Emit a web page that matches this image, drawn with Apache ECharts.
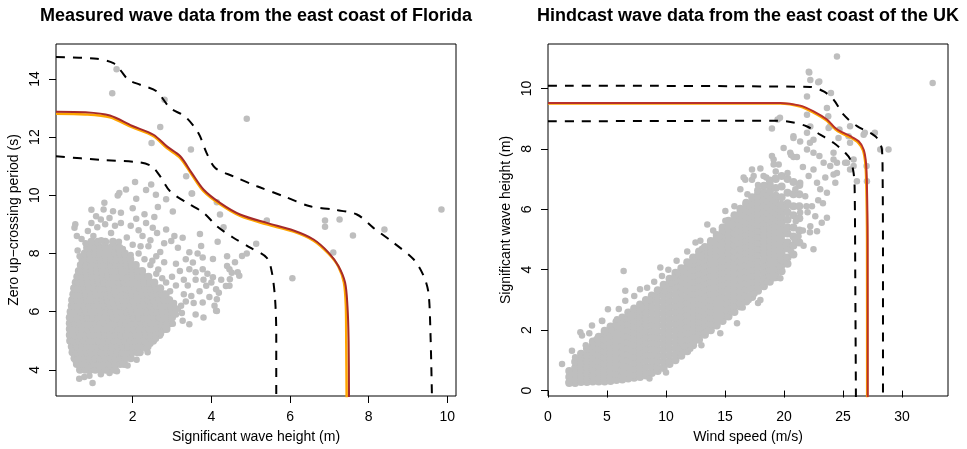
<!DOCTYPE html>
<html>
<head>
<meta charset="utf-8">
<script src="https://cdn.jsdelivr.net/npm/echarts@6/dist/echarts.min.js"></script>
<style>
  html, body { margin: 0; padding: 0; background: #fff; }
  #chart { width: 967px; height: 449px; }
</style>
</head>
<body>
<div id="chart"></div>
<script>
// ---- Florida panel: Hs (m) vs Tz (s) ----
// dense core of the cloud, one row per Tz level: [Tz, [Hs ...]]
const floridaCoreRows = [
  [4.0, [0.66, 0.79, 0.92, 1.05, 1.18, 1.31, 1.44, 1.55]],
  [4.2, [0.58, 0.64, 0.77, 0.9, 1.03, 1.16, 1.29, 1.42, 1.55, 1.68, 1.78]],
  [4.4, [0.52, 0.65, 0.78, 0.91, 1.04, 1.17, 1.3, 1.43, 1.56, 1.69, 1.82, 1.95]],
  [4.6, [0.47, 0.56, 0.69, 0.82, 0.95, 1.08, 1.21, 1.34, 1.47, 1.6, 1.73, 1.86, 1.99, 2.12, 2.18]],
  [4.8, [0.45, 0.58, 0.71, 0.84, 0.97, 1.1, 1.23, 1.36, 1.49, 1.62, 1.75, 1.88, 2.01, 2.14, 2.27, 2.38]],
  [5.0, [0.41, 0.5, 0.63, 0.76, 0.89, 1.02, 1.15, 1.28, 1.41, 1.54, 1.67, 1.8, 1.93, 2.06, 2.19, 2.32, 2.45, 2.52]],
  [5.2, [0.4, 0.53, 0.66, 0.79, 0.92, 1.05, 1.18, 1.31, 1.44, 1.57, 1.7, 1.83, 1.96, 2.09, 2.22, 2.35, 2.48, 2.61, 2.68]],
  [5.4, [0.4, 0.47, 0.6, 0.73, 0.86, 0.99, 1.12, 1.25, 1.38, 1.51, 1.64, 1.77, 1.9, 2.03, 2.16, 2.29, 2.42, 2.55, 2.68, 2.81, 2.86]],
  [5.6, [0.4, 0.53, 0.66, 0.79, 0.92, 1.05, 1.18, 1.31, 1.44, 1.57, 1.7, 1.83, 1.96, 2.09, 2.22, 2.35, 2.48, 2.61, 2.74, 2.87, 2.95]],
  [5.8, [0.4, 0.47, 0.6, 0.73, 0.86, 0.99, 1.12, 1.25, 1.38, 1.51, 1.64, 1.77, 1.9, 2.03, 2.16, 2.29, 2.42, 2.55, 2.68, 2.81, 2.94, 3.0]],
  [6.0, [0.42, 0.55, 0.68, 0.81, 0.94, 1.07, 1.2, 1.33, 1.46, 1.59, 1.72, 1.85, 1.98, 2.11, 2.24, 2.37, 2.5, 2.63, 2.76, 2.89, 3.0]],
  [6.2, [0.45, 0.51, 0.64, 0.77, 0.9, 1.03, 1.16, 1.29, 1.42, 1.55, 1.68, 1.81, 1.94, 2.07, 2.2, 2.33, 2.46, 2.59, 2.72, 2.85, 2.98, 3.03]],
  [6.4, [0.46, 0.59, 0.72, 0.85, 0.98, 1.11, 1.24, 1.37, 1.5, 1.63, 1.76, 1.89, 2.02, 2.15, 2.28, 2.41, 2.54, 2.67, 2.8, 2.93]],
  [6.6, [0.49, 0.55, 0.68, 0.81, 0.94, 1.07, 1.2, 1.33, 1.46, 1.59, 1.72, 1.85, 1.98, 2.11, 2.24, 2.37, 2.5, 2.63, 2.76, 2.84]],
  [6.8, [0.51, 0.64, 0.77, 0.9, 1.03, 1.16, 1.29, 1.42, 1.55, 1.68, 1.81, 1.94, 2.07, 2.2, 2.33, 2.46, 2.59, 2.7]],
  [7.0, [0.55, 0.62, 0.75, 0.88, 1.01, 1.14, 1.27, 1.4, 1.53, 1.66, 1.79, 1.92, 2.05, 2.18, 2.31, 2.44, 2.55]],
  [7.2, [0.59, 0.72, 0.85, 0.98, 1.11, 1.24, 1.37, 1.5, 1.63, 1.76, 1.89, 2.02, 2.15, 2.28, 2.4]],
  [7.4, [0.63, 0.7, 0.83, 0.96, 1.09, 1.22, 1.35, 1.48, 1.61, 1.74, 1.87, 2.0, 2.13, 2.24]],
  [7.6, [0.68, 0.81, 0.94, 1.07, 1.2, 1.33, 1.46, 1.59, 1.72, 1.85, 1.98, 2.08]],
  [7.8, [0.72, 0.8, 0.93, 1.06, 1.19, 1.32, 1.45, 1.58, 1.71, 1.84, 1.94]],
  [8.0, [0.78, 0.91, 1.04, 1.17, 1.3, 1.43, 1.56, 1.69, 1.8]],
  [8.2, [0.84, 0.92, 1.05, 1.18, 1.31, 1.44, 1.57, 1.66]],
  [8.4, [0.95, 1.12, 1.3, 1.5]]
];
// scattered points around the core and outliers: [Hs, Tz]
const floridaSpread = [
  [0.64, 3.69], [0.77, 3.75], [0.9, 3.8], [0.98, 3.55], [1.19, 3.85], [1.41, 3.89], [0.86, 4.07], [1.6, 3.95],
  [1.75, 4.21], [1.87, 4.15], [2.1, 4.35], [0.55, 4.3], [2.34, 4.72], [2.38, 4.6], [2.45, 4.9], [2.59, 5.07],
  [2.72, 5.25], [2.85, 5.52], [3.02, 5.58], [3.1, 5.9], [3.05, 6.3], [3.15, 6.1], [3.27, 5.69], [3.44, 5.57],
  [3.23, 6.2], [3.49, 6.54], [3.1, 6.08], [2.95, 6.7], [3.3, 6.6], [3.1, 6.9], [2.85, 7.0], [3.0, 7.2],
  [3.2, 7.4], [2.6, 7.3], [2.45, 7.6], [2.3, 7.8], [2.15, 8.0], [2.6, 7.9], [2.8, 7.7], [3.44, 7.46],
  [3.78, 7.46], [3.53, 7.69], [3.78, 7.86], [4.04, 7.81], [3.44, 8.04], [3.74, 8.26], [4.16, 8.4], [2.98, 8.43],
  [3.06, 8.6], [3.27, 8.54], [3.71, 8.67], [4.04, 7.18], [4.46, 7.46], [4.67, 7.35], [4.71, 7.23], [4.46, 6.89],
  [4.12, 6.77], [3.87, 6.89], [3.78, 6.31], [4.08, 6.2], [4.12, 6.03], [3.6, 7.1], [3.7, 6.7], [3.4, 6.9],
  [3.3, 7.1], [3.9, 7.3], [4.25, 7.1], [4.9, 8.0], [4.78, 7.91], [5.14, 8.33], [4.6, 7.7], [4.4, 7.9],
  [4.4, 7.57], [4.52, 7.34], [4.47, 7.11], [4.37, 6.88], [4.19, 6.65], [4.14, 6.43],
  [2.65, 7.45], [2.75, 7.15], [2.5, 7.75], [2.7, 8.05], [2.2, 8.25], [2.45, 8.45], [2.62, 8.7], [2.15, 8.8],
  [1.95, 8.95], [1.55, 8.95], [1.3, 9.0], [0.95, 9.05], [0.8, 8.35], [0.58, 8.6], [1.1, 8.9], [1.7, 9.4],
  [2.0, 9.55], [2.3, 9.35], [2.55, 9.25], [1.5, 9.45], [0.95, 9.5], [2.8, 8.35], [3.15, 8.2], [3.35, 7.8],
  [3.1, 7.65], [3.6, 7.35], [3.8, 7.1], [3.55, 6.3], [3.35, 6.35], [3.25, 5.95], [3.6, 5.9], [3.8, 5.8],
  [3.95, 6.5], [4.0, 7.0], [3.65, 8.0],
  [0.52, 8.88], [0.54, 9.0], [0.86, 8.77], [1.07, 9.28], [1.19, 9.17], [1.28, 9.74], [1.26, 9.51], [1.41, 9.22],
  [1.62, 9.99], [1.66, 10.08], [1.83, 10.2], [2.06, 10.46], [2.09, 9.88], [2.34, 10.18], [2.47, 10.37], [2.59, 10.02],
  [2.85, 9.86], [3.51, 10.06], [2.64, 9.6], [3.02, 9.44], [1.7, 9.05], [2.09, 9.19], [2.34, 9.05], [2.51, 8.88],
  [2.85, 8.82], [0.7, 8.5], [1.0, 8.6], [1.2, 8.45], [1.45, 8.7], [1.65, 8.4], [1.85, 8.55], [2.0, 8.3],
  [2.25, 8.6], [1.75, 8.15], [1.95, 7.95], [2.4, 8.25], [0.6, 8.1], [0.65, 7.9],
  [1.59, 14.33], [1.48, 13.51], [2.81, 13.28], [4.9, 12.63], [2.7, 12.35], [2.48, 11.8], [3.48, 11.57], [3.36, 10.65],
  [3.5, 10.06], [4.14, 9.76], [4.22, 9.34], [9.85, 9.51], [8.4, 8.82], [6.89, 9.13], [6.89, 8.92], [7.26, 9.17],
  [7.6, 8.62], [7.1, 8.03], [6.06, 7.15], [5.41, 9.13], [4.14, 6.02], [4.31, 8.9]
];
const floridaContourOrange = [
  [0.05, 12.8], [0.8, 12.78], [1.42, 12.68], [1.98, 12.34], [2.53, 12.03], [2.87, 11.62], [3.21, 11.28], [3.5, 10.71],
  [3.8, 10.14], [4.22, 9.69], [4.73, 9.29], [5.41, 9.0], [6.09, 8.75], [6.6, 8.44], [6.98, 7.99], [7.23, 7.55],
  [7.37, 7.0], [7.42, 6.2], [7.43, 5.0], [7.44, 3.0]
];
const floridaContourRed = [
  [0.05, 12.87], [0.8, 12.85], [1.42, 12.74], [1.98, 12.39], [2.53, 12.08], [2.87, 11.68], [3.21, 11.34], [3.5, 10.77],
  [3.8, 10.2], [4.22, 9.74], [4.73, 9.34], [5.41, 9.05], [6.09, 8.79], [6.6, 8.48], [6.98, 8.03], [7.23, 7.57],
  [7.4, 7.0], [7.46, 6.2], [7.49, 5.0], [7.5, 3.0]
];
const floridaBandUpper = [
  [0.05, 14.75], [1.09, 14.69], [1.51, 14.54], [1.68, 14.31], [1.89, 13.97], [2.19, 13.8], [2.61, 13.57], [2.95, 13.0],
  [3.33, 12.71], [3.67, 12.14], [3.88, 11.45], [4.1, 10.94], [4.56, 10.65], [5.16, 10.31], [5.83, 9.97], [6.51, 9.62],
  [7.1, 9.51], [7.7, 9.34], [8.12, 8.88], [8.63, 8.37], [9.14, 7.8], [9.4, 7.22], [9.52, 6.65], [9.57, 5.29], [9.61, 3.0]
];
const floridaBandLower = [
  [0.05, 11.34], [1.17, 11.22], [2.19, 11.13], [2.48, 11.0], [2.7, 10.65], [2.95, 10.14], [3.38, 9.74], [3.8, 9.4],
  [4.14, 8.94], [4.56, 8.54], [4.99, 8.2], [5.41, 7.85], [5.54, 7.34], [5.62, 6.43], [5.65, 5.28], [5.65, 3.0]
];
const floridaXTicks = [2, 4, 6, 8, 10];
const floridaYTicks = [4, 6, 8, 10, 12, 14];

// ---- UK panel: wind speed (m/s) vs Hs (m) ----
// dense core of the band, one column per wind speed: [U, [Hs ...]]
const ukCoreCols = [
  [1.8, [0.25, 0.45, 0.65]],
  [2.3, [0.25, 0.35, 0.55, 0.75, 0.95]],
  [2.8, [0.28, 0.48, 0.68, 0.88, 1.08, 1.22]],
  [3.3, [0.28, 0.38, 0.58, 0.78, 0.98, 1.18, 1.38]],
  [3.8, [0.3, 0.5, 0.7, 0.9, 1.1, 1.3, 1.5, 1.62]],
  [4.3, [0.3, 0.4, 0.6, 0.8, 1.0, 1.2, 1.4, 1.6, 1.78]],
  [4.8, [0.3, 0.5, 0.7, 0.9, 1.1, 1.3, 1.5, 1.7, 1.9, 1.98]],
  [5.3, [0.32, 0.42, 0.62, 0.82, 1.02, 1.22, 1.42, 1.62, 1.82, 2.02, 2.12]],
  [5.8, [0.35, 0.55, 0.75, 0.95, 1.15, 1.35, 1.55, 1.75, 1.95, 2.15, 2.28]],
  [6.3, [0.37, 0.47, 0.67, 0.87, 1.07, 1.27, 1.47, 1.67, 1.87, 2.07, 2.27, 2.42]],
  [6.8, [0.4, 0.6, 0.8, 1.0, 1.2, 1.4, 1.6, 1.8, 2.0, 2.2, 2.4, 2.58]],
  [7.3, [0.42, 0.52, 0.72, 0.92, 1.12, 1.32, 1.52, 1.72, 1.92, 2.12, 2.32, 2.52, 2.72]],
  [7.8, [0.45, 0.65, 0.85, 1.05, 1.25, 1.45, 1.65, 1.85, 2.05, 2.25, 2.45, 2.65, 2.85]],
  [8.3, [0.5, 0.6, 0.8, 1.0, 1.2, 1.4, 1.6, 1.8, 2.0, 2.2, 2.4, 2.6, 2.8, 3.0]],
  [8.8, [0.58, 0.78, 0.98, 1.18, 1.38, 1.58, 1.78, 1.98, 2.18, 2.38, 2.58, 2.78, 2.98, 3.15]],
  [9.3, [0.65, 0.75, 0.95, 1.15, 1.35, 1.55, 1.75, 1.95, 2.15, 2.35, 2.55, 2.75, 2.95, 3.15, 3.32]],
  [9.8, [0.75, 0.95, 1.15, 1.35, 1.55, 1.75, 1.95, 2.15, 2.35, 2.55, 2.75, 2.95, 3.15, 3.35, 3.5]],
  [10.3, [0.88, 0.98, 1.18, 1.38, 1.58, 1.78, 1.98, 2.18, 2.38, 2.58, 2.78, 2.98, 3.18, 3.38, 3.58, 3.7]],
  [10.8, [1.0, 1.2, 1.4, 1.6, 1.8, 2.0, 2.2, 2.4, 2.6, 2.8, 3.0, 3.2, 3.4, 3.6, 3.8, 3.9]],
  [11.3, [1.15, 1.25, 1.45, 1.65, 1.85, 2.05, 2.25, 2.45, 2.65, 2.85, 3.05, 3.25, 3.45, 3.65, 3.85, 4.05]],
  [11.8, [1.3, 1.5, 1.7, 1.9, 2.1, 2.3, 2.5, 2.7, 2.9, 3.1, 3.3, 3.5, 3.7, 3.9, 4.1, 4.25]],
  [12.3, [1.5, 1.6, 1.8, 2.0, 2.2, 2.4, 2.6, 2.8, 3.0, 3.2, 3.4, 3.6, 3.8, 4.0, 4.2, 4.4]],
  [12.8, [1.68, 1.88, 2.08, 2.28, 2.48, 2.68, 2.88, 3.08, 3.28, 3.48, 3.68, 3.88, 4.08, 4.28, 4.48, 4.6]],
  [13.3, [1.85, 1.95, 2.15, 2.35, 2.55, 2.75, 2.95, 3.15, 3.35, 3.55, 3.75, 3.95, 4.15, 4.35, 4.55, 4.75]],
  [13.8, [2.0, 2.2, 2.4, 2.6, 2.8, 3.0, 3.2, 3.4, 3.6, 3.8, 4.0, 4.2, 4.4, 4.6, 4.8, 4.95]],
  [14.3, [2.15, 2.25, 2.45, 2.65, 2.85, 3.05, 3.25, 3.45, 3.65, 3.85, 4.05, 4.25, 4.45, 4.65, 4.85, 5.05, 5.15]],
  [14.8, [2.3, 2.5, 2.7, 2.9, 3.1, 3.3, 3.5, 3.7, 3.9, 4.1, 4.3, 4.5, 4.7, 4.9, 5.1, 5.3, 5.4]],
  [15.3, [2.45, 2.55, 2.75, 2.95, 3.15, 3.35, 3.55, 3.75, 3.95, 4.15, 4.35, 4.55, 4.75, 4.95, 5.15, 5.35, 5.55, 5.62]],
  [15.8, [2.6, 2.8, 3.0, 3.2, 3.4, 3.6, 3.8, 4.0, 4.2, 4.4, 4.6, 4.8, 5.0, 5.2, 5.4, 5.6, 5.8]],
  [16.3, [2.78, 2.88, 3.08, 3.28, 3.48, 3.68, 3.88, 4.08, 4.28, 4.48, 4.68, 4.88, 5.08, 5.28, 5.48, 5.68, 5.88, 6.02]],
  [16.8, [2.95, 3.15, 3.35, 3.55, 3.75, 3.95, 4.15, 4.35, 4.55, 4.75, 4.95, 5.15, 5.35, 5.55, 5.75, 5.95, 6.15, 6.22]],
  [17.3, [3.1, 3.2, 3.4, 3.6, 3.8, 4.0, 4.2, 4.4, 4.6, 4.8, 5.0, 5.2, 5.4, 5.6, 5.8, 6.0, 6.2, 6.4]],
  [17.8, [3.3, 3.5, 3.7, 3.9, 4.1, 4.3, 4.5, 4.7, 4.9, 5.1, 5.3, 5.5, 5.7, 5.9, 6.1, 6.3, 6.5, 6.62]],
  [18.3, [3.45, 3.55, 3.75, 3.95, 4.15, 4.35, 4.55, 4.75, 4.95, 5.15, 5.35, 5.55, 5.75, 5.95, 6.15, 6.35, 6.55, 6.78]],
  [18.8, [3.6, 3.8, 4.0, 4.2, 4.4, 4.6, 4.8, 5.0, 5.2, 5.4, 5.6, 5.8, 6.0, 6.2, 6.4, 6.6, 6.8, 6.95]],
  [19.3, [3.75, 3.85, 4.05, 4.25, 4.45, 4.65, 4.85, 5.05, 5.25, 5.45, 5.65, 5.85, 6.05, 6.25, 6.45, 6.7, 7.0]],
  [19.8, [3.95, 4.15, 4.35, 4.55, 4.75, 4.95, 5.15, 5.35, 5.55, 5.75, 5.95, 6.15, 6.4, 6.75, 7.1]],
  [20.3, [4.2, 4.4, 4.7, 4.9, 5.2, 5.4, 5.65, 5.9, 6.2, 6.55, 7.0]],
  [20.8, [4.5, 4.8, 5.1, 5.4, 5.8, 6.1, 6.5, 6.9]],
  [21.3, [4.9, 5.3, 5.7, 6.1, 6.5, 6.8]]
];
// scattered points around the band and outliers: [U, Hs]
const ukSpread = [
  [1.19, 0.88], [1.75, 0.28], [2.74, 0.33], [2.03, 1.32], [2.3, 1.1], [2.74, 1.93], [2.88, 1.82], [3.2, 1.5],
  [3.73, 2.15], [4.1, 1.7], [4.57, 2.31], [5.08, 2.69], [5.85, 2.36], [5.4, 2.0], [6.41, 3.96], [6.55, 3.3],
  [6.55, 2.97], [7.31, 3.13], [7.0, 2.5], [8.0, 2.75], [8.6, 3.0], [9.52, 4.07], [9.66, 3.79], [9.9, 3.3],
  [10.5, 3.55], [11.0, 3.9], [11.07, 1.38], [12.06, 1.38], [11.6, 1.45], [12.6, 1.75], [13.4, 1.95], [14.2, 2.15],
  [12.91, 4.96], [13.05, 4.69], [13.76, 4.91], [12.3, 4.3], [13.0, 4.45], [15.03, 5.62], [14.5, 5.1], [15.6, 5.5],
  [16.02, 2.23], [17.01, 3.0], [18.0, 3.0], [15.2, 2.45], [16.5, 2.75], [17.5, 3.2], [19.12, 3.72], [19.69, 3.72],
  [18.6, 3.6], [19.6, 4.1], [20.2, 4.4], [20.6, 4.6], [16.72, 6.98], [17.29, 6.98], [16.3, 6.66], [15.03, 5.94],
  [16.58, 7.05], [17.43, 7.1], [17.29, 7.32], [18.27, 7.1], [19.12, 7.65], [18.98, 7.76], [19.55, 7.48], [19.12, 7.48],
  [19.26, 7.04], [18.98, 8.67], [19.46, 8.97], [19.97, 8.03], [20.53, 7.87], [20.8, 8.36], [21.37, 8.24], [21.95, 7.98],
  [22.5, 8.3], [22.23, 8.74], [21.95, 8.53], [23.78, 8.69], [23.64, 9.35], [21.95, 9.13], [21.95, 9.73], [22.14, 10.53],
  [22.23, 10.28], [22.99, 10.23], [22.1, 10.55], [22.9, 10.2], [23.98, 9.85], [24.49, 11.06], [32.6, 10.18], [23.75, 9.08],
  [23.9, 8.75], [24.7, 8.64], [24.62, 8.36], [25.6, 8.75], [25.47, 8.42], [25.6, 8.2], [26.75, 8.47], [26.85, 8.53],
  [27.7, 8.53], [28.16, 7.98], [28.86, 7.98], [25.34, 7.54], [25.9, 7.43], [27.03, 6.93], [27.0, 7.43], [26.18, 6.93],
  [25.18, 7.54], [25.6, 7.32], [25.9, 7.65], [24.49, 7.54], [24.2, 7.87], [24.2, 7.65], [23.92, 7.43], [24.49, 7.2],
  [24.35, 6.88], [23.64, 6.55], [23.0, 7.76], [23.36, 7.54], [22.5, 7.32], [23.5, 7.05], [24.2, 7.15], [22.8, 6.88],
  [23.07, 6.66], [22.09, 7.1], [21.37, 6.88], [20.96, 6.66], [21.8, 6.43], [22.37, 6.1], [21.37, 5.89], [20.25, 6.1],
  [22.5, 4.68], [21.66, 4.79], [22.23, 5.44], [22.8, 5.27], [23.2, 5.55], [21.23, 5.11], [22.65, 5.77], [23.64, 5.72],
  [22.2, 5.24], [20.8, 7.73], [21.1, 7.73], [20.6, 7.8], [22.2, 8.2], [22.5, 7.87], [19.66, 9.03], [20.8, 8.42],
  [21.6, 7.4], [20.3, 7.2], [21.9, 6.1], [21.0, 5.6], [21.6, 5.3], [20.9, 5.0], [22.0, 5.9], [23.3, 6.2],
  [22.9, 6.3], [17.8, 6.8], [18.5, 7.05], [19.3, 7.25], [18.0, 7.35], [16.9, 6.5], [15.8, 6.1], [14.0, 5.3],
  [13.5, 5.5], [10.9, 4.3], [7.8, 3.35], [8.4, 3.4], [6.0, 2.7], [4.6, 2.3], [3.5, 1.9], [11.8, 4.6],
  [12.5, 4.9], [10.2, 4.0], [9.0, 3.6], [14.6, 1.9], [13.0, 1.5], [10.0, 0.6], [8.6, 0.4], [17.8, 2.9]
];
const ukContourOrange = [
  [0, 9.5], [19.69, 9.5], [21.38, 9.4], [22.51, 9.2], [23.64, 8.93], [24.35, 8.65], [24.91, 8.51], [25.62, 8.38],
  [26.3, 8.2], [26.7, 7.95], [26.9, 7.5], [26.98, 6.77], [27.04, 5.0], [27.05, -0.5]
];
const ukContourRed = [
  [0, 9.52], [19.69, 9.52], [21.38, 9.43], [22.51, 9.24], [23.64, 8.97], [24.35, 8.69], [24.91, 8.55], [25.62, 8.42],
  [26.33, 8.25], [26.75, 7.98], [26.95, 7.54], [27.03, 6.77], [27.09, 5.0], [27.1, -0.5]
];
const ukBandUpper = [
  [0, 10.09], [22.23, 10.05], [23.36, 9.9], [24.2, 9.63], [25.05, 9.13], [26.19, 8.75], [27.32, 8.53], [27.88, 8.36],
  [28.3, 7.98], [28.36, 7.1], [28.39, 4.5], [28.39, -0.5]
];
const ukBandLower = [
  [0, 8.91], [19.4, 8.93], [20.67, 8.88], [21.95, 8.74], [23.07, 8.47], [24.2, 8.2], [25.19, 7.87], [25.62, 7.65],
  [25.9, 7.2], [25.99, 6.66], [26.04, 3.8], [26.1, -0.5]
];
const ukXTicks = [0, 5, 10, 15, 20, 25, 30];
const ukYTicks = [0, 2, 4, 6, 8, 10];

// ---- build ----
const FONT = '"Liberation Sans", Arial, Helvetica, sans-serif';
const GREY = '#BEBEBE';

function rowsToPoints(rows) {
  const pts = [];
  rows.forEach(([y, xs]) => xs.forEach(x => pts.push([x, y])));
  return pts;
}
function colsToPoints(cols) {
  const pts = [];
  cols.forEach(([x, ys]) => ys.forEach(y => pts.push([x, y])));
  return pts;
}

function makeXAxis(gridIndex, min, max, ticks, name) {
  return {
    type: 'value', gridIndex, min, max, name,
    nameLocation: 'middle', nameGap: 34,
    nameTextStyle: { fontSize: 14, color: '#000', fontFamily: FONT },
    axisLine: { show: false },
    splitLine: { show: false },
    axisTick: { show: true, customValues: ticks, length: 7, lineStyle: { color: '#000', width: 1 } },
    axisLabel: { customValues: ticks, fontSize: 14, color: '#000', margin: 14, fontFamily: FONT }
  };
}
function makeYAxis(gridIndex, min, max, ticks, name) {
  return {
    type: 'value', gridIndex, min, max, name,
    nameLocation: 'middle', nameGap: 35,
    nameTextStyle: { fontSize: 14, color: '#000', fontFamily: FONT },
    axisLine: { show: false },
    splitLine: { show: false },
    axisTick: { show: true, customValues: ticks, length: 7, lineStyle: { color: '#000', width: 1 } },
    axisLabel: { customValues: ticks, rotate: 90, fontSize: 14, color: '#000', margin: 14, fontFamily: FONT }
  };
}
function scatter(idx, data, size) {
  return {
    type: 'scatter', xAxisIndex: idx, yAxisIndex: idx, data,
    symbol: 'circle', symbolSize: size, silent: true,
    itemStyle: { color: GREY, opacity: 1 }
  };
}
function curve(idx, data, color, width, dashed) {
  return {
    type: 'line', xAxisIndex: idx, yAxisIndex: idx, data,
    showSymbol: false, symbol: 'none', smooth: 0.3, silent: true, clip: true,
    lineStyle: { color, width, type: dashed ? [9, 8] : 'solid' }
  };
}

const chart = echarts.init(document.getElementById('chart'), null, { renderer: 'canvas' });

chart.setOption({
  animation: false,
  backgroundColor: '#fff',
  textStyle: { fontFamily: FONT },
  graphic: [
    { type: 'text', x: 256, y: 16, style: { text: 'Measured wave data from the east coast of Florida',
      font: 'bold 18px ' + FONT, fill: '#000', align: 'center', verticalAlign: 'middle' } },
    { type: 'text', x: 748, y: 16, style: { text: 'Hindcast wave data from the east coast of the UK',
      font: 'bold 18px ' + FONT, fill: '#000', align: 'center', verticalAlign: 'middle' } }
  ],
  grid: [
    { left: 56, top: 44, width: 400, height: 353, show: true, borderColor: '#000', borderWidth: 1, backgroundColor: 'transparent' },
    { left: 548, top: 44, width: 400, height: 353, show: true, borderColor: '#000', borderWidth: 1, backgroundColor: 'transparent' }
  ],
  xAxis: [
    makeXAxis(0, 0.05, 10.22, floridaXTicks, 'Significant wave height (m)'),
    makeXAxis(1, 0, 33.9, ukXTicks, 'Wind speed (m/s)')
  ],
  yAxis: [
    makeYAxis(0, 3.1, 15.2, floridaYTicks, 'Zero up\u2212crossing period (s)'),
    makeYAxis(1, -0.18, 11.47, ukYTicks, 'Significant wave height (m)')
  ],
  series: [
    scatter(0, rowsToPoints(floridaCoreRows), 8),
    scatter(0, floridaSpread, 6.5),
    curve(0, floridaBandUpper, '#000', 2, true),
    curve(0, floridaBandLower, '#000', 2, true),
    curve(0, floridaContourOrange, '#FFA500', 2.5, false),
    curve(0, floridaContourRed, '#A52A2A', 2, false),
    scatter(1, colsToPoints(ukCoreCols), 8),
    scatter(1, ukSpread, 6.5),
    curve(1, ukBandUpper, '#000', 2, true),
    curve(1, ukBandLower, '#000', 2, true),
    curve(1, ukContourOrange, '#FFA500', 2.5, false),
    curve(1, ukContourRed, '#B8302A', 2, false)
  ]
});
</script>
</body>
</html>
